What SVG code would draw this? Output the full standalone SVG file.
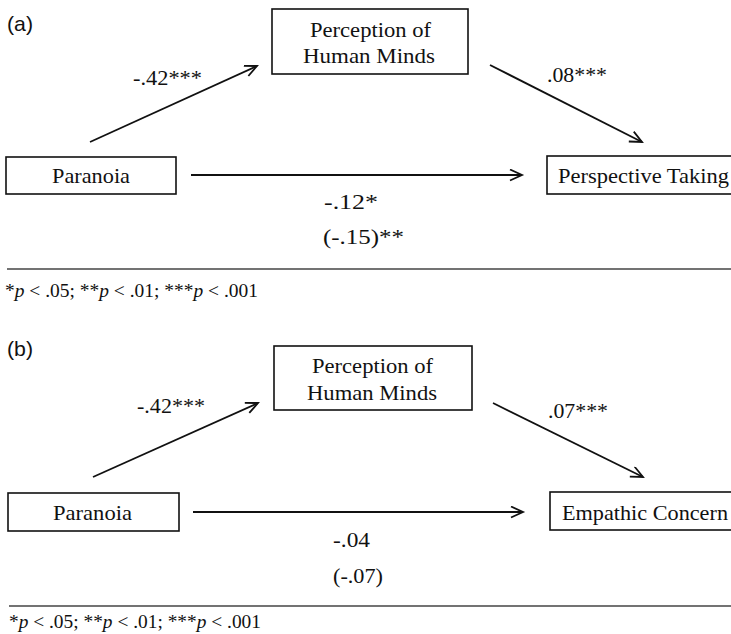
<svg xmlns="http://www.w3.org/2000/svg" width="731" height="634" viewBox="0 0 731 634">
<style>
.box{fill:#fff;stroke:#111;stroke-width:1.6}
.t{font-family:"Liberation Serif","Times New Roman",serif;font-size:22px;fill:#111}
.fn{font-family:"Liberation Serif","Times New Roman",serif;font-size:19px;fill:#111}
.pl{font-family:"Liberation Sans",Arial,sans-serif;font-size:21px;fill:#111}
.edge{stroke:#111;stroke-width:1.8;fill:none;marker-end:url(#ah)}
.rule{stroke:#444;stroke-width:1.3}
</style>
<defs>
<marker id="ah" markerUnits="userSpaceOnUse" markerWidth="16" markerHeight="14" refX="13" refY="6" orient="auto">
<path d="M1,0.5 L13,6 L1,11.5" fill="none" stroke="#111" stroke-width="1.8"/>
</marker>
</defs>
<text class="pl" x="7" y="31" textLength="26" lengthAdjust="spacingAndGlyphs">(a)</text>
<text class="pl" x="7" y="356" textLength="26" lengthAdjust="spacingAndGlyphs">(b)</text>
<g id="connectors">
<line class="edge" x1="90" y1="142" x2="257" y2="66"/>
<line class="edge" x1="490" y1="65" x2="642" y2="142"/>
<line class="edge" x1="191" y1="175" x2="522" y2="175"/>
<line class="edge" x1="93" y1="477" x2="258" y2="403"/>
<line class="edge" x1="493" y1="403" x2="643" y2="477"/>
<line class="edge" x1="193" y1="512" x2="523" y2="512"/>
</g>
<g id="labels">
<text class="t" x="133" y="85" textLength="69" lengthAdjust="spacingAndGlyphs">-.42***</text>
<text class="t" x="547" y="82" textLength="60" lengthAdjust="spacingAndGlyphs">.08***</text>
<text class="t" x="324" y="209" textLength="54" lengthAdjust="spacingAndGlyphs">-.12*</text>
<text class="t" x="323" y="244" textLength="81" lengthAdjust="spacingAndGlyphs">(-.15)**</text>
<text class="t" x="137" y="413" textLength="68" lengthAdjust="spacingAndGlyphs">-.42***</text>
<text class="t" x="548" y="418" textLength="60" lengthAdjust="spacingAndGlyphs">.07***</text>
<text class="t" x="333" y="547" textLength="37" lengthAdjust="spacingAndGlyphs">-.04</text>
<text class="t" x="333" y="583" textLength="50" lengthAdjust="spacingAndGlyphs">(-.07)</text>
</g>
<g id="perception-a">
<rect class="box" x="272" y="9" width="196" height="65"/>
<text class="t" x="310" y="37" textLength="121" lengthAdjust="spacingAndGlyphs">Perception of</text>
<text class="t" x="303" y="63" textLength="132" lengthAdjust="spacingAndGlyphs">Human Minds</text>
</g>
<g id="paranoia-a">
<rect class="box" x="6" y="157" width="170" height="37"/>
<text class="t" x="52" y="183" textLength="78" lengthAdjust="spacingAndGlyphs">Paranoia</text>
</g>
<g id="perspective-taking">
<rect class="box" x="547" y="156" width="188" height="38"/>
<text class="t" x="558" y="183" textLength="171" lengthAdjust="spacingAndGlyphs">Perspective Taking</text>
</g>
<line class="rule" x1="7" y1="269" x2="731" y2="269"/>
<text class="fn" x="5" y="297" textLength="253" lengthAdjust="spacingAndGlyphs">*<tspan font-style="italic">p</tspan> &lt; .05; **<tspan font-style="italic">p</tspan> &lt; .01; ***<tspan font-style="italic">p</tspan> &lt; .001</text>
<g id="perception-b">
<rect class="box" x="274" y="346" width="198" height="64"/>
<text class="t" x="312" y="373" textLength="121" lengthAdjust="spacingAndGlyphs">Perception of</text>
<text class="t" x="307" y="400" textLength="130" lengthAdjust="spacingAndGlyphs">Human Minds</text>
</g>
<g id="paranoia-b">
<rect class="box" x="8" y="493" width="171" height="38"/>
<text class="t" x="53" y="520" textLength="79" lengthAdjust="spacingAndGlyphs">Paranoia</text>
</g>
<g id="empathic-concern">
<rect class="box" x="550" y="492" width="185" height="38"/>
<text class="t" x="562" y="520" textLength="166" lengthAdjust="spacingAndGlyphs">Empathic Concern</text>
</g>
<line class="rule" x1="9" y1="606" x2="731" y2="606"/>
<text class="fn" x="9" y="628" textLength="252" lengthAdjust="spacingAndGlyphs">*<tspan font-style="italic">p</tspan> &lt; .05; **<tspan font-style="italic">p</tspan> &lt; .01; ***<tspan font-style="italic">p</tspan> &lt; .001</text>
</svg>
